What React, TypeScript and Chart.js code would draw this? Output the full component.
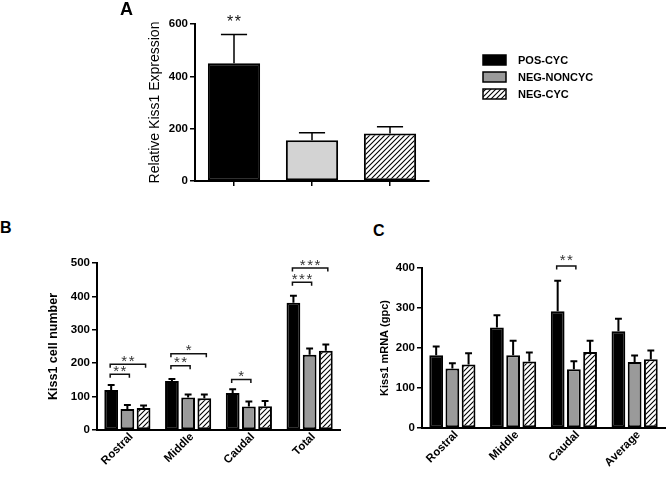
import React, { useEffect, useRef } from 'react';
import { Chart, registerables } from 'chart.js';

Chart.register(...registerables);

const FONT = "'Liberation Sans', Arial, Helvetica, sans-serif";
const GRAY = '#9a9a9a';
const LIGHT_GRAY = '#d3d3d3';

// ---- shared series names ----
const groups = ['POS-CYC', 'NEG-NONCYC', 'NEG-CYC'];

// ---- Panel A ----
const aValues = [450, 156, 182];
const aErrTop = [560, 184, 207];
const aTicks = [0, 200, 400, 600];
const aStars = [{ cat: 0, text: '**', y: 625 }];

// ---- Panel B ----
const bCategories = ['Rostral', 'Middle', 'Caudal', 'Total'];
const bPosCyc = [120, 147, 111, 381];
const bPosCycErr = [135, 153, 122, 402];
const bNegNonCyc = [63, 97, 70, 225];
const bNegNonCycErr = [75, 106, 85, 244];
const bNegCyc = [66, 95, 71, 237];
const bNegCycErr = [73, 106, 87, 256];
const bTicks = [0, 100, 200, 300, 400, 500];
const bBrackets = [
  { cat: 0, from: 0, to: 1, y: 167, text: '**' },
  { cat: 0, from: 0, to: 2, y: 197, text: '**' },
  { cat: 1, from: 0, to: 1, y: 192, text: '**' },
  { cat: 1, from: 0, to: 2, y: 228, text: '*' },
  { cat: 2, from: 0, to: 1, y: 151, text: '*' },
  { cat: 3, from: 0, to: 1, y: 442, text: '***' },
  { cat: 3, from: 0, to: 2, y: 485, text: '***' },
];

// ---- Panel C ----
const cCategories = ['Rostral', 'Middle', 'Caudal', 'Average'];
const cPosCyc = [182, 251, 292, 242];
const cPosCycErr = [204, 282, 368, 273];
const cNegNonCyc = [149, 182, 147, 165];
const cNegNonCycErr = [162, 218, 167, 181];
const cNegCyc = [159, 166, 190, 172];
const cNegCycErr = [187, 189, 218, 194];
const cTicks = [0, 100, 200, 300, 400];
const cBrackets = [{ cat: 2, from: 0, to: 1, y: 405, text: '**' }];

function makeHatch(): CanvasPattern | string {
  const c = document.createElement('canvas');
  c.width = 5;
  c.height = 5;
  const g = c.getContext('2d');
  if (!g) return '#fff';
  g.fillStyle = '#fff';
  g.fillRect(0, 0, 5, 5);
  g.strokeStyle = '#000';
  g.lineWidth = 1.1;
  g.beginPath();
  g.moveTo(-1, 6);
  g.lineTo(6, -1);
  g.moveTo(-1, 1);
  g.lineTo(1, -1);
  g.moveTo(4, 6);
  g.lineTo(6, 4);
  g.stroke();
  return g.createPattern(c, 'repeat') || '#fff';
}

function drawStars(ctx: CanvasRenderingContext2D, text: string, x: number, cy: number, size: number, color: string) {
  ctx.save();
  ctx.font = `${size}px ${FONT}`;
  (ctx as any).letterSpacing = '1.5px';
  ctx.fillStyle = color;
  ctx.textAlign = 'center';
  ctx.textBaseline = 'alphabetic';
  ctx.fillText(text, x + 0.75, cy + size * 0.57);
  ctx.restore();
}

function errorPlugin(errs: number[][], lineWidth: number, capFrac: number) {
  return {
    id: 'errbars',
    afterDatasetsDraw(chart: any) {
      const ctx = chart.ctx;
      const ys = chart.scales.y;
      chart.data.datasets.forEach((_: any, di: number) => {
        const meta = chart.getDatasetMeta(di);
        meta.data.forEach((bar: any, i: number) => {
          const x = bar.x;
          const y0 = bar.y;
          const y1 = ys.getPixelForValue(errs[di][i]);
          const hw = bar.width * capFrac;
          ctx.save();
          ctx.strokeStyle = '#000';
          ctx.lineWidth = lineWidth;
          ctx.beginPath();
          ctx.moveTo(x, y0);
          ctx.lineTo(x, y1);
          ctx.moveTo(x - hw, y1);
          ctx.lineTo(x + hw, y1);
          ctx.stroke();
          ctx.restore();
        });
      });
    },
  };
}

function bracketPlugin(brackets: any[], textGap: number, starSize: number) {
  return {
    id: 'brackets',
    afterDraw(chart: any) {
      const ctx = chart.ctx;
      const ys = chart.scales.y;
      brackets.forEach((b) => {
        const m1 = chart.getDatasetMeta(b.from).data[b.cat];
        const m2 = chart.getDatasetMeta(b.to).data[b.cat];
        const x1 = m1.x - 1;
        const x2 = m2.x + 2;
        const y = ys.getPixelForValue(b.y);
        ctx.save();
        ctx.strokeStyle = '#111';
        ctx.lineWidth = 1.5;
        ctx.beginPath();
        ctx.moveTo(x1, y + 3.5);
        ctx.lineTo(x1, y);
        ctx.lineTo(x2, y);
        ctx.lineTo(x2, y + 3.5);
        ctx.stroke();
        ctx.restore();
        drawStars(ctx, b.text, (x1 + x2) / 2, y - textGap, starSize, '#333');
      });
    },
  };
}

function starPlugin(stars: any[], size: number) {
  return {
    id: 'stars',
    afterDraw(chart: any) {
      const ctx = chart.ctx;
      const ys = chart.scales.y;
      stars.forEach((s) => {
        const bar = chart.getDatasetMeta(0).data[s.cat];
        drawStars(ctx, s.text, bar.x, ys.getPixelForValue(s.y), size, '#111');
      });
    },
  };
}

function legendPlugin(fills: any[]) {
  return {
    id: 'customLegend',
    afterDraw(chart: any) {
      const ctx = chart.ctx;
      const rows = [60, 77, 94];
      groups.forEach((name, i) => {
        const cy = rows[i];
        ctx.save();
        ctx.fillStyle = fills[i];
        ctx.fillRect(383, cy - 5, 23, 10);
        ctx.strokeStyle = '#000';
        ctx.lineWidth = 1.5;
        ctx.strokeRect(383, cy - 5, 23, 10);
        ctx.fillStyle = '#000';
        ctx.font = `bold 11px ${FONT}`;
        ctx.textAlign = 'left';
        ctx.textBaseline = 'middle';
        ctx.fillText(name, 418, cy + 1);
        ctx.restore();
      });
    },
  };
}

function yAxis(ticks: number[], title: string, titleFont: any, titlePad: number, width: number) {
  return {
    min: ticks[0],
    max: ticks[ticks.length - 1],
    afterBuildTicks: (s: any) => {
      s.ticks = ticks.map((v) => ({ value: v }));
    },
    ticks: { font: { family: FONT, size: 11.5, weight: 'bold' }, color: '#000', padding: 2 },
    grid: { display: true, drawOnChartArea: false, drawTicks: true, tickLength: 5, color: '#000', lineWidth: 1.5 },
    border: { display: true, color: '#000', width: 2 },
    title: { display: true, text: title, font: titleFont, color: '#000', padding: { top: titlePad, bottom: 0 } },
    afterFit: (s: any) => {
      s.width = width;
    },
  };
}

function xAxisRot(height: number) {
  return {
    grid: { display: false, drawTicks: false, tickLength: 0 },
    border: { display: true, color: '#000', width: 2 },
    ticks: {
      font: { family: FONT, size: 11.5, weight: 'bold' },
      color: '#000',
      maxRotation: 45,
      minRotation: 45,
      autoSkip: false,
      padding: 0,
      labelOffset: 4,
    },
    afterFit: (s: any) => {
      s.height = height;
    },
  };
}

function makeA(): any {
  const hatch = makeHatch();
  return {
    type: 'bar',
    data: {
      labels: groups,
      datasets: [
        {
          data: aValues,
          backgroundColor: ['#000', LIGHT_GRAY, hatch],
          borderColor: '#000',
          borderWidth: 2,
          borderSkipped: false,
          barPercentage: 0.67,
          categoryPercentage: 1,
        },
      ],
    },
    options: {
      animation: false,
      responsive: false,
      maintainAspectRatio: false,
      layout: { padding: { left: 0, right: 237, top: 24, bottom: 0 } },
      plugins: { legend: { display: false }, tooltip: { enabled: false } },
      scales: {
        x: {
          grid: { display: true, drawOnChartArea: false, drawTicks: true, tickLength: 5, offset: false, color: '#000', lineWidth: 1.5 },
          border: { display: true, color: '#000', width: 2 },
          ticks: { display: false },
          afterFit: (s: any) => {
            s.height = 19;
          },
        },
        y: yAxis(aTicks, 'Relative Kiss1 Expression', { family: FONT, size: 14 }, 47, 95),
      },
    },
    plugins: [errorPlugin([aErrTop], 1.5, 0.25), starPlugin(aStars, 16), legendPlugin(['#000', GRAY, hatch])],
  };
}

function groupedDatasets(series: number[][], hatch: any) {
  const fills = ['#000', GRAY, hatch];
  return series.map((data, i) => ({
    label: groups[i],
    data,
    backgroundColor: fills[i],
    borderColor: '#000',
    borderWidth: 2,
    borderSkipped: false,
    barPercentage: 0.85,
    categoryPercentage: 0.8,
  }));
}

function makeB(): any {
  const hatch = makeHatch();
  return {
    type: 'bar',
    data: { labels: bCategories, datasets: groupedDatasets([bPosCyc, bNegNonCyc, bNegCyc], hatch) },
    options: {
      animation: false,
      responsive: false,
      maintainAspectRatio: false,
      layout: { padding: { left: 0, right: 5, top: 23, bottom: 0 } },
      plugins: { legend: { display: false }, tooltip: { enabled: false } },
      scales: {
        x: xAxisRot(47),
        y: yAxis(bTicks, 'Kiss1 cell number', { family: FONT, size: 12.5, weight: 'bold' }, 46, 97),
      },
    },
    plugins: [errorPlugin([bPosCycErr, bNegNonCycErr, bNegCycErr], 2, 0.25), bracketPlugin(bBrackets, 7, 15)],
  };
}

function makeC(): any {
  const hatch = makeHatch();
  return {
    type: 'bar',
    data: { labels: cCategories, datasets: groupedDatasets([cPosCyc, cNegNonCyc, cNegCyc], hatch) },
    options: {
      animation: false,
      responsive: false,
      maintainAspectRatio: false,
      layout: { padding: { left: 0, right: 1, top: 28, bottom: 0 } },
      plugins: { legend: { display: false }, tooltip: { enabled: false } },
      scales: {
        x: xAxisRot(49),
        y: yAxis(cTicks, 'Kiss1 mRNA (gpc)', { family: FONT, size: 11, weight: 'bold' }, 33, 77),
      },
    },
    plugins: [errorPlugin([cPosCycErr, cNegNonCycErr, cNegCycErr], 2, 0.25), bracketPlugin(cBrackets, 10, 15)],
  };
}

function ChartBox(props: { left: number; top: number; width: number; height: number; make: () => any }) {
  const ref = useRef<HTMLCanvasElement>(null);
  useEffect(() => {
    if (!ref.current) return;
    const chart = new Chart(ref.current, props.make());
    return () => chart.destroy();
  }, []);
  return (
    <canvas
      ref={ref}
      width={props.width}
      height={props.height}
      style={{ position: 'absolute', left: props.left, top: props.top, width: props.width, height: props.height, display: 'block' }}
    />
  );
}

const labelStyle: React.CSSProperties = {
  position: 'absolute',
  fontFamily: FONT,
  fontWeight: 'bold',
  lineHeight: 1,
  color: '#000',
};

export default function App() {
  return (
    <div style={{ position: 'fixed', left: 0, top: 0, width: 666, height: 477, background: '#fff', overflow: 'hidden' }}>
      <ChartBox left={100} top={0} width={566} height={200} make={makeA} />
      <ChartBox left={0} top={240} width={345} height={237} make={makeB} />
      <ChartBox left={345} top={240} width={321} height={237} make={makeC} />
      <div style={{ ...labelStyle, left: 120, top: 0, fontSize: 18 }}>A</div>
      <div style={{ ...labelStyle, left: 0, top: 220, fontSize: 16 }}>B</div>
      <div style={{ ...labelStyle, left: 373, top: 223, fontSize: 16 }}>C</div>
    </div>
  );
}
